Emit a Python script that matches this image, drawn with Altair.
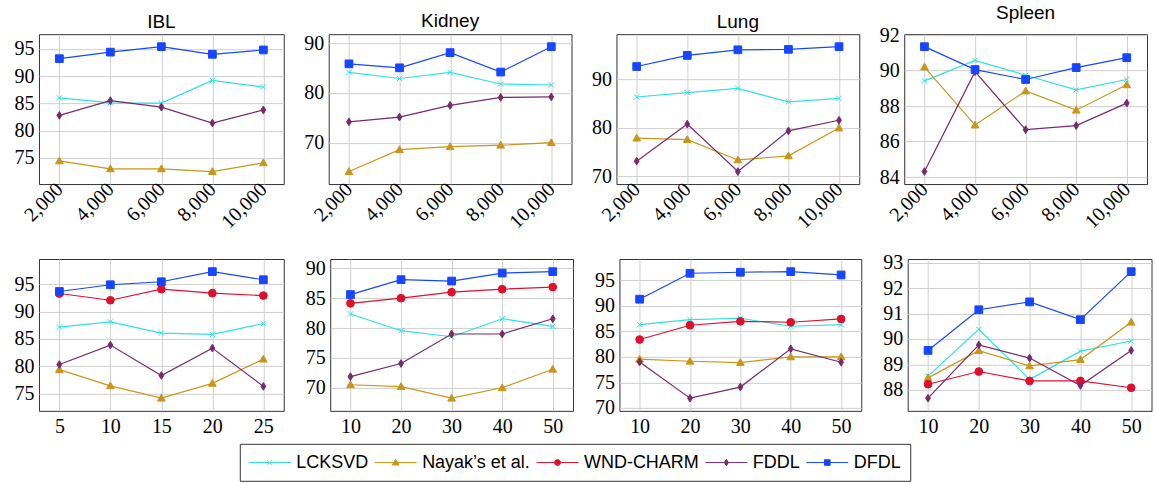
import altair as alt
import pandas as pd

# ---------------- data ----------------
SERIES = ["LCKSVD", "Nayak’s et al.", "WND-CHARM", "FDDL", "DFDL"]

dict_sizes = [2000, 4000, 6000, 8000, 10000]
ibl_train = [5, 10, 15, 20, 25]
train_sizes = [10, 20, 30, 40, 50]

ibl_top = {
    "LCKSVD": [86.0, 85.1, 85.05, 89.2, 88.0],
    "Nayak’s et al.": [74.45, 73.0, 73.0, 72.5, 74.1],
    "FDDL": [82.8, 85.5, 84.3, 81.4, 83.8],
    "DFDL": [93.2, 94.4, 95.4, 94.0, 94.8],
}
kidney_top = {
    "LCKSVD": [84.15, 82.9, 84.15, 81.8, 81.6],
    "Nayak’s et al.": [64.2, 68.6, 69.2, 69.5, 70.0],
    "FDDL": [74.2, 75.15, 77.5, 79.1, 79.2],
    "DFDL": [85.85, 85.05, 88.1, 84.2, 89.3],
}
lung_top = {
    "LCKSVD": [86.4, 87.3, 88.2, 85.4, 86.1],
    "Nayak’s et al.": [77.9, 77.6, 73.4, 74.25, 80.0],
    "FDDL": [73.15, 80.8, 71.0, 79.4, 81.6],
    "DFDL": [92.7, 95.0, 96.15, 96.25, 96.8],
}
spleen_top = {
    "LCKSVD": [89.42, 90.58, 89.74, 88.92, 89.5],
    "Nayak’s et al.": [90.2, 86.93, 88.85, 87.77, 89.2],
    "FDDL": [84.31, 89.94, 86.67, 86.9, 88.17],
    "DFDL": [91.35, 90.06, 89.5, 90.17, 90.73],
}
ibl_bot = {
    "LCKSVD": [87.15, 88.1, 86.05, 85.8, 87.8],
    "Nayak’s et al.": [79.37, 76.4, 74.14, 76.85, 81.28],
    "WND-CHARM": [93.28, 92.05, 94.08, 93.35, 92.9],
    "FDDL": [80.3, 83.85, 78.3, 83.3, 76.3],
    "DFDL": [93.65, 94.88, 95.43, 97.28, 95.8],
}
kidney_bot = {
    "LCKSVD": [82.34, 79.55, 78.54, 81.55, 80.28],
    "Nayak’s et al.": [70.5, 70.2, 68.25, 70.0, 73.1],
    "WND-CHARM": [84.14, 85.0, 86.0, 86.5, 86.85],
    "FDDL": [71.86, 74.06, 79.0, 79.0, 81.55],
    "DFDL": [85.6, 88.1, 87.86, 89.2, 89.44],
}
lung_bot = {
    "LCKSVD": [86.3, 87.3, 87.57, 86.0, 86.3],
    "Nayak’s et al.": [79.54, 79.14, 78.88, 80.0, 80.0],
    "WND-CHARM": [83.4, 86.2, 86.97, 86.78, 87.43],
    "FDDL": [79.0, 71.9, 74.08, 81.58, 78.95],
    "DFDL": [91.3, 96.38, 96.58, 96.7, 96.05],
}
spleen_bot = {
    "LCKSVD": [88.54, 90.38, 88.41, 89.52, 89.92],
    "Nayak’s et al.": [88.47, 89.54, 88.94, 89.19, 90.66],
    "WND-CHARM": [88.22, 88.72, 88.35, 88.35, 88.08],
    "FDDL": [87.67, 89.77, 89.25, 88.17, 89.55],
    "DFDL": [89.55, 91.15, 91.46, 90.76, 92.65],
}

yt_ibl_top = [75, 80, 85, 90, 95]
yt_kidney_top = [70, 80, 90]
yt_lung_top = [70, 80, 90]
yt_spleen_top = [84, 86, 88, 90, 92]
yt_ibl_bot = [75, 80, 85, 90, 95]
yt_kidney_bot = [70, 75, 80, 85, 90]
yt_lung_bot = [70, 75, 80, 85, 90, 95]
yt_spleen_bot = [88, 89, 90, 91, 92, 93]

# ---------------- styles ----------------
COLORS = ["#2ee2e2", "#c9961c", "#e0102c", "#772a6c", "#1746ff"]
MARKERS = [
    "M-0.7,-0.7L0.7,0.7M-0.7,0.7L0.7,-0.7",
    "M0,-1L1,0.75L-1,0.75Z",
    "circle",
    "M0,-1L0.62,0L0,1L-0.62,0Z",
    "M-1,-1H1V1H-1Z",
]
# legend symbols: a 42px line with a small marker in its middle (unit = 9px)
LINE = "M-2.333,0H2.333"
LEG_SYMBOLS = [
    LINE + "M-0.27,-0.27L0.27,0.27M-0.27,0.27L0.27,-0.27",
    LINE + "M0,-0.36L0.38,0.27L-0.38,0.27Z",
    LINE + "M-0.333,0A0.333,0.333 0 1,1 0.333,0A0.333,0.333 0 1,1 -0.333,0Z",
    LINE + "M0,-0.36L0.22,0L0,0.36L-0.22,0Z",
    LINE + "M-0.31,-0.31H0.31V0.31H-0.31Z",
]

fill_scale = alt.Scale(domain=SERIES, range=COLORS)
stroke_scale = alt.Scale(domain=SERIES, range=COLORS)
shape_scale = alt.Scale(domain=SERIES, range=MARKERS)


def enlarge(vals):
    lo, hi = min(vals), max(vals)
    p = 0.1 * (hi - lo)
    return [lo - p, hi + p]


def panel(data, xs, yticks, width, height, title=None, rotate=False):
    rows = []
    for s in SERIES:
        if s in data:
            for xv, yv in zip(xs, data[s]):
                rows.append({"series": s, "x": xv, "y": yv})
    df = pd.DataFrame(rows)
    ydom = enlarge(df["y"].tolist())
    xdom = enlarge(xs)
    if rotate:
        xaxis = alt.Axis(values=xs, format=",d", labelAngle=-45, title=None,
                         labelAlign="right", labelBaseline="middle", labelPadding=2,
                         labelOverlap=False)
    else:
        xaxis = alt.Axis(values=xs, format="d", title=None, labelPadding=6)
    x = alt.X("x:Q", scale=alt.Scale(domain=xdom, nice=False, zero=False), axis=xaxis)
    y = alt.Y("y:Q", scale=alt.Scale(domain=ydom, nice=False, zero=False),
              axis=alt.Axis(values=yticks, title=None, labelPadding=5))
    base = alt.Chart(df)
    line = base.mark_line(strokeWidth=1.2).encode(
        x=x, y=y, stroke=alt.Stroke("series:N", scale=stroke_scale, legend=None),
        order="x:Q")
    pts = base.mark_point(filled=True, opacity=1, size=60, strokeWidth=1).encode(
        x=x, y=y,
        fill=alt.Fill("series:N", scale=fill_scale, legend=None),
        stroke=alt.Stroke("series:N", scale=stroke_scale, legend=None),
        shape=alt.Shape("series:N", scale=shape_scale, legend=None))
    ch = alt.layer(line, pts).properties(width=width, height=height)
    if title:
        ch = ch.properties(title=alt.TitleParams(title, font="Liberation Sans", fontSize=19,
                                                 fontWeight="normal", color="black", offset=2))
    return ch


top = alt.hconcat(
    panel(ibl_top, dict_sizes, yt_ibl_top, 245, 150, "IBL", True),
    panel(kidney_top, dict_sizes, yt_kidney_top, 243, 150, "Kidney", True),
    panel(lung_top, dict_sizes, yt_lung_top, 243, 150, "Lung", True),
    panel(spleen_top, dict_sizes, yt_spleen_top, 243, 150, "Spleen", True),
    spacing=45, bounds="flush",
)
bottom = alt.hconcat(
    panel(ibl_bot, ibl_train, yt_ibl_bot, 245, 152),
    panel(kidney_bot, train_sizes, yt_kidney_bot, 243, 152),
    panel(lung_bot, train_sizes, yt_lung_bot, 242, 152),
    panel(spleen_bot, train_sizes, yt_spleen_bot, 244, 152),
    spacing=46.5, bounds="flush",
)

legend_df = pd.DataFrame({"series": SERIES})
leg = dict(orient="none", legendX=201, legendY=28, direction="horizontal", columns=5,
           title=None, symbolSize=324, symbolStrokeWidth=1, symbolOpacity=1,
           symbolOffset=11.5, labelOffset=17,
           columnPadding=4, padding=9, strokeColor="#333", fillColor="white",
           labelFont="Liberation Sans", labelFontSize=18, labelColor="black")
legend_row = alt.Chart(legend_df).transform_filter("false").mark_point(
    filled=True, opacity=1).encode(
    fill=alt.Fill("series:N", scale=alt.Scale(domain=SERIES, range=COLORS), legend=alt.Legend(**leg)),
    stroke=alt.Stroke("series:N", scale=alt.Scale(domain=SERIES, range=COLORS), legend=alt.Legend(**leg)),
    shape=alt.Shape("series:N", scale=alt.Scale(domain=SERIES, range=LEG_SYMBOLS), legend=alt.Legend(**leg)),
).properties(width=1, height=1, view=alt.ViewBackground(strokeOpacity=0))

inner = alt.vconcat(bottom, legend_row, spacing=157, bounds="flush").resolve_scale(
    fill="independent", stroke="independent", shape="independent")

chart = alt.vconcat(top, inner, spacing=225, bounds="flush").resolve_scale(
    fill="independent", stroke="independent", shape="independent"
).properties(
    padding={"left": 13, "top": 3, "right": 3, "bottom": 4},
    background="white",
).configure_view(
    stroke="#333", strokeWidth=1
).configure_axis(
    labelFont="Liberation Serif", labelFontSize=20, labelColor="black",
    ticks=False, domain=False, grid=True, gridColor="#cfcfcf", gridWidth=1,
)

chart.save("out.html", embed_options={"renderer": "svg", "actions": False})
